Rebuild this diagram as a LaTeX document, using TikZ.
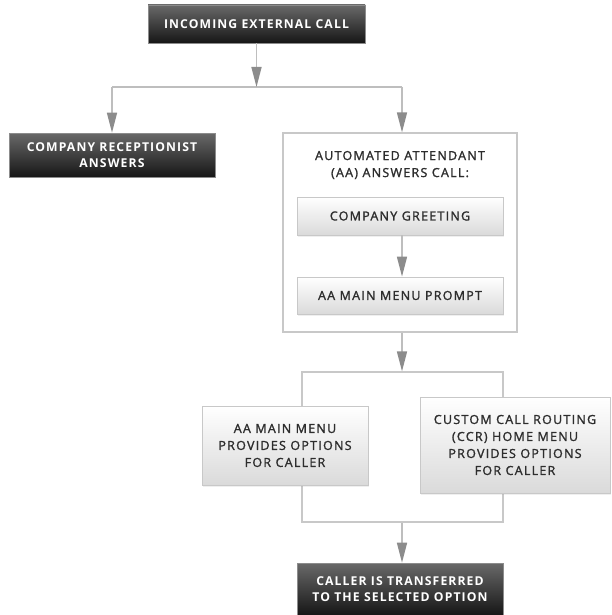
\documentclass[tikz,border=0pt]{standalone}
\usepackage{fontspec}
\usetikzlibrary{arrows.meta,shadows}
\newfontfamily\labfont[LetterSpace=10,FakeBold=1.6]{Open Sans}
\newfontfamily\darkfont[LetterSpace=9]{Open Sans}
\definecolor{linegray}{RGB}{190,190,190}
\definecolor{tipgray}{RGB}{140,140,140}
\definecolor{boxborder}{RGB}{200,200,200}
\definecolor{txtgray}{RGB}{45,45,45}
\definecolor{darktop}{RGB}{105,105,105}
\definecolor{darkmid}{RGB}{38,38,38}
\definecolor{darkbot}{RGB}{22,22,22}
\definecolor{lightbot}{RGB}{218,218,218}
\tikzset{
  darkbox/.style={draw=black!45, line width=0.6pt, top color=darktop, middle color=darkmid, bottom color=darkbot,
    text=white, font=\darkfont\bfseries\fontsize{12.2}{16.5}\selectfont, align=center, inner sep=0pt},
  lightbox/.style={draw=boxborder, line width=0.8pt, top color=white, bottom color=lightbot,
    text=txtgray, font=\labfont\fontsize{12.5}{17}\selectfont, align=center, inner sep=0pt,
    drop shadow={opacity=0.12, shadow xshift=1pt, shadow yshift=-1.5pt}},
  framebox/.style={draw=boxborder, line width=1.3pt, fill=white, inner sep=0pt},
  plaintext/.style={text=txtgray, font=\labfont\fontsize{12.5}{17}\selectfont, align=center, inner sep=0pt},
  conn/.style={draw=linegray, line width=1.5pt},
  arr/.style={conn, -{Triangle[length=20pt,width=10pt,color=tipgray]}}
}
\begin{document}
\begin{tikzpicture}[x=1pt,y=-1pt]
\useasboundingbox (0,0) rectangle (611,615);
\fill[white] (0,0) rectangle (611,615);
% frames
\node[framebox, minimum width=234pt, minimum height=199pt] (aa) at (400,232.5) {};
\node[framebox, minimum width=201pt, minimum height=150pt] (menuframe) at (402.5,447) {};
% dark boxes
\node[darkbox, minimum width=217pt, minimum height=38pt] (top) at (256.5,24) {INCOMING EXTERNAL CALL};
\node[darkbox, minimum width=206pt, minimum height=44pt] (recep) at (112,155) {COMPANY RECEPTIONIST\\ANSWERS};
\node[darkbox, minimum width=206pt, minimum height=52pt] (final) at (400,589) {CALLER IS TRANSFERRED\\TO THE SELECTED OPTION};
% AA contents
\node[plaintext] (aatitle) at (400,165) {AUTOMATED ATTENDANT\\(AA) ANSWERS CALL:};
\node[lightbox, minimum width=206pt, minimum height=38pt] (greet) at (400,216) {COMPANY GREETING};
\node[lightbox, minimum width=206pt, minimum height=37pt] (prompt) at (400,295.5) {AA MAIN MENU PROMPT};
% menu boxes
\node[lightbox, minimum width=166pt, minimum height=79pt] (aamenu) at (285,445.5) {AA MAIN MENU\\PROVIDES OPTIONS\\FOR CALLER};
\node[lightbox, minimum width=190pt, minimum height=96pt] (ccr) at (515,445) {CUSTOM CALL ROUTING\\(CCR) HOME MENU\\PROVIDES OPTIONS\\FOR CALLER};
% connectors
\coordinate (jl) at (112,87);
\coordinate (jr) at (402,87);
\draw[conn] (jl) -- (jr);
\draw[arr] (top.south) -- (top.south |- jl);
\draw[arr] (jl) -- (recep.north);
\draw[arr] (jr) -- (aa.north -| jr);
\draw[arr] (greet.south -| jr) -- (prompt.north -| jr);
\draw[arr] (aa.south -| jr) -- (menuframe.north -| jr);
\draw[arr] (menuframe.south -| jr) -- (final.north -| jr);
\end{tikzpicture}
\end{document}
